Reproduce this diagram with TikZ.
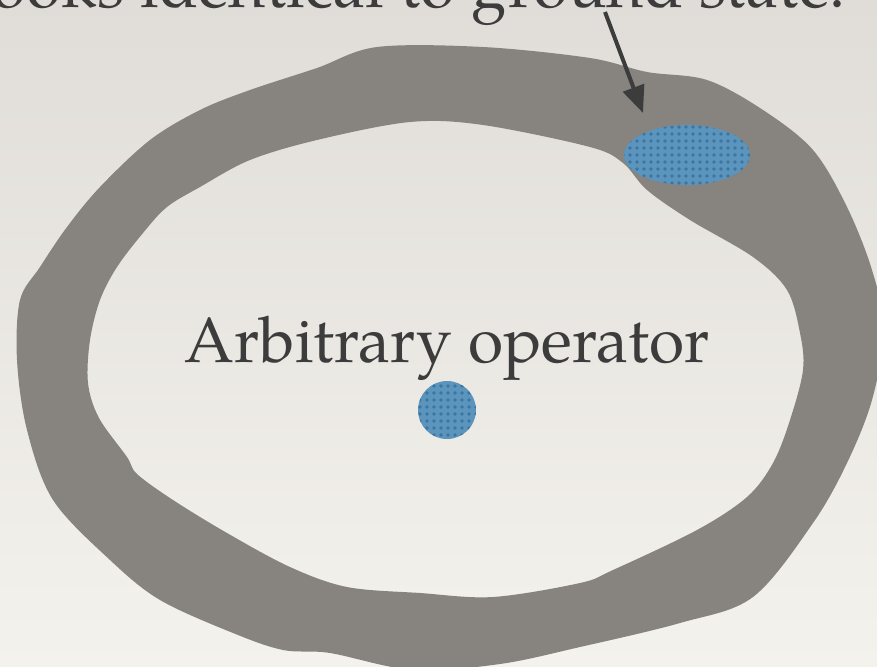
\documentclass[tikz,border=0pt]{standalone}
\usepackage{fontspec}
\setmainfont{TeX Gyre Pagella}
\usetikzlibrary{arrows.meta,shapes.geometric,patterns.meta}

\definecolor{paperTop}{HTML}{E0DDD9}
\definecolor{paperBot}{HTML}{F4F2ED}
\definecolor{ringGray}{HTML}{87837F}
\definecolor{inkGray}{HTML}{3C3C3C}
\definecolor{spotBlue}{HTML}{5B94BC}
\definecolor{spotDots}{HTML}{3D75A0}

\tikzset{
  label text/.style={text=inkGray, inner sep=0pt, font=\fontsize{64}{70}\selectfont},
  spot/.style={fill=spotBlue, draw=none, inner sep=0pt,
    postaction={pattern={Dots[distance=7pt, radius=1.9pt]}, pattern color=spotDots}},
  pointer/.style={draw=inkGray, line width=4pt,
    -{Triangle[length=27pt, width=22pt]}}
}

\begin{document}
\begin{tikzpicture}[x=1pt, y=-1pt]
  % page area and paper background
  \useasboundingbox (0,0) rectangle (877,666);
  \clip (0,0) rectangle (877,666);
  \shade[top color=paperTop, bottom color=paperBot] (0,0) rectangle (877,666);

  % the thick irregular ring (outer outline, then inner hole)
  \fill[ringGray, even odd rule]
    plot[smooth cycle, tension=0.55] coordinates {
      (377,47) (483,47) (590,58) (647,72) (707,80) (763,110) (813,150)
      (847,207) (872,270) (884,330) (872,400) (847,463) (813,523)
      (753,597) (680,623) (580,647) (500,664) (413,670) (330,653)
      (283,650) (233,633) (160,600) (110,560) (53,500) (27,430)
      (17,360) (20,300) (40,267) (67,227) (100,187) (150,140)
      (200,110) (250,90) (317,68)}
    plot[smooth cycle, tension=0.55] coordinates {
      (410,122) (483,125) (590,147) (623,163) (647,190) (690,220)
      (753,257) (787,290) (800,333) (803,370) (790,420) (773,463)
      (747,497) (697,530) (613,570) (580,583) (493,597) (420,593)
      (347,587) (290,567) (227,533) (173,500) (137,474) (127,457)
      (99,418) (88,383) (90,340) (100,300) (117,267) (143,233)
      (167,207) (200,187) (250,160) (317,140)};

  % blue regions
  \node[spot, ellipse, minimum width=126pt, minimum height=60pt] (edge) at (687,155) {};
  \node[spot, circle, minimum size=58pt] (bulk) at (447,410) {};

  % texts
  \node[label text, anchor=base east] (caption) at (846,8) {Looks identical to ground state.};
  \node[label text, anchor=base] (opname) at (447,362) {Arbitrary operator};

  % pointer from the caption to the edge region
  \coordinate (tail) at (605,12);
  \coordinate (tip) at (643,113);
  \draw[pointer] (tail) -- (tip);
\end{tikzpicture}
\end{document}
